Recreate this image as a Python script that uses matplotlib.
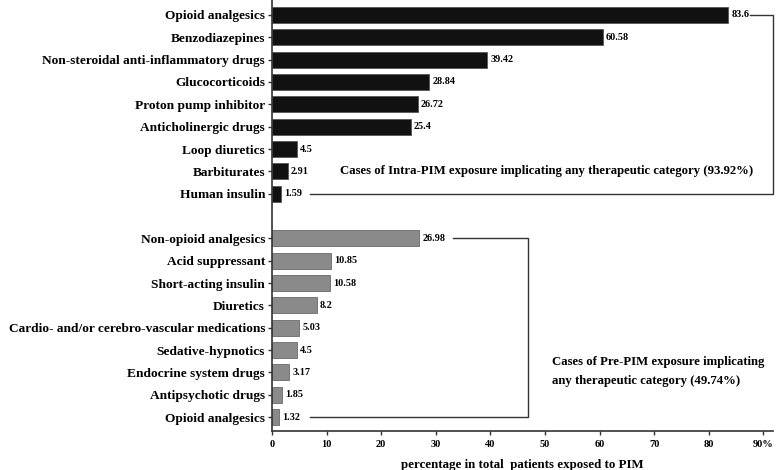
import matplotlib.pyplot as plt
import numpy as np

# datos
intra_cats = ["Opioid analgesics", "Benzodiazepines", "Non-steroidal anti-inflammatory drugs",
              "Glucocorticoids", "Proton pump inhibitor", "Anticholinergic drugs",
              "Loop diuretics", "Barbiturates", "Human insulin"]
intra_vals = [83.6, 60.58, 39.42, 28.84, 26.72, 25.4, 4.5, 2.91, 1.59]

pre_cats = ["Non-opioid analgesics", "Acid suppressant", "Short-acting insulin", "Diuretics",
            "Cardio- and/or cerebro-vascular medications", "Sedative-hypnotics",
            "Endocrine system drugs", "Antipsychotic drugs", "Opioid analgesics"]
pre_vals = [26.98, 10.85, 10.58, 8.2, 5.03, 4.5, 3.17, 1.85, 1.32]

intra_label = "Cases of Intra-PIM exposure implicating any therapeutic category (93.92%)"
pre_label = "Cases of Pre-PIM exposure implicating\nany therapeutic category (49.74%)"
xticks = [0, 10, 20, 30, 40, 50, 60, 70, 80, 90]
xticklabels = ["0", "10", "20", "30", "40", "50", "60", "70", "80", "90%"]

plt.rcParams['font.family'] = ['Liberation Serif', 'DejaVu Serif']
plt.rcParams['font.weight'] = 'bold'

fig = plt.figure(figsize=(7.77, 4.70), dpi=100)
ax = fig.add_axes([0.350, 0.083, 0.645, 0.917])

y_intra = np.arange(len(intra_cats))
y_pre = np.arange(len(pre_cats)) + len(intra_cats) + 1

ax.barh(y_intra, intra_vals, height=0.72, color='#111111', edgecolor='#555555', linewidth=0.6)
ax.barh(y_pre, pre_vals, height=0.72, color='#8a8a8a', edgecolor='#6a6a6a', linewidth=0.6)

for y, v in zip(y_intra, intra_vals):
    ax.text(v + 0.6, y, f"{v:g}", va='center', ha='left', fontsize=7.3, fontweight='bold')
for y, v in zip(y_pre, pre_vals):
    ax.text(v + 0.6, y, f"{v:g}", va='center', ha='left', fontsize=7.3, fontweight='bold')

ax.set_yticks(np.concatenate([y_intra, y_pre]))
ax.set_yticklabels(intra_cats + pre_cats, fontsize=9.6, fontweight='bold')
ax.set_ylim(len(intra_cats) + len(pre_cats) + 1 - 0.38, -0.67)
ax.set_xlim(0, 91.8)
ax.set_xticks(xticks)
ax.set_xticklabels(xticklabels, fontsize=7.5, fontweight='bold')
ax.tick_params(axis='both', direction='out', length=3, width=1, color='#333333')
ax.tick_params(axis='y', pad=2)

ax.spines['top'].set_visible(False)
ax.spines['right'].set_visible(False)
ax.spines['left'].set_color('#333333')
ax.spines['bottom'].set_color('#333333')
ax.spines['left'].set_linewidth(1.2)
ax.spines['bottom'].set_linewidth(1.2)

ax.set_xlabel("percentage in total  patients exposed to PIM", fontsize=9.3, fontweight='bold', labelpad=7)

# llaves
ax.plot([87.6, 91.8, 91.8, 7.0], [y_intra[0], y_intra[0], y_intra[-1], y_intra[-1]],
        color='#333333', linewidth=1.0, clip_on=False)
ax.text(12.4, y_intra[-2], intra_label, fontsize=9.2, fontweight='bold', va='center', ha='left')

ax.plot([33.2, 46.9, 46.9, 7.0], [y_pre[0], y_pre[0], y_pre[-1], y_pre[-1]],
        color='#333333', linewidth=1.0, clip_on=False)
ax.text(51.3, y_pre[6] - 0.05, pre_label, fontsize=9.2, fontweight='bold', va='center', ha='left',
        linespacing=1.75)

fig.savefig("out.png", dpi=100)
